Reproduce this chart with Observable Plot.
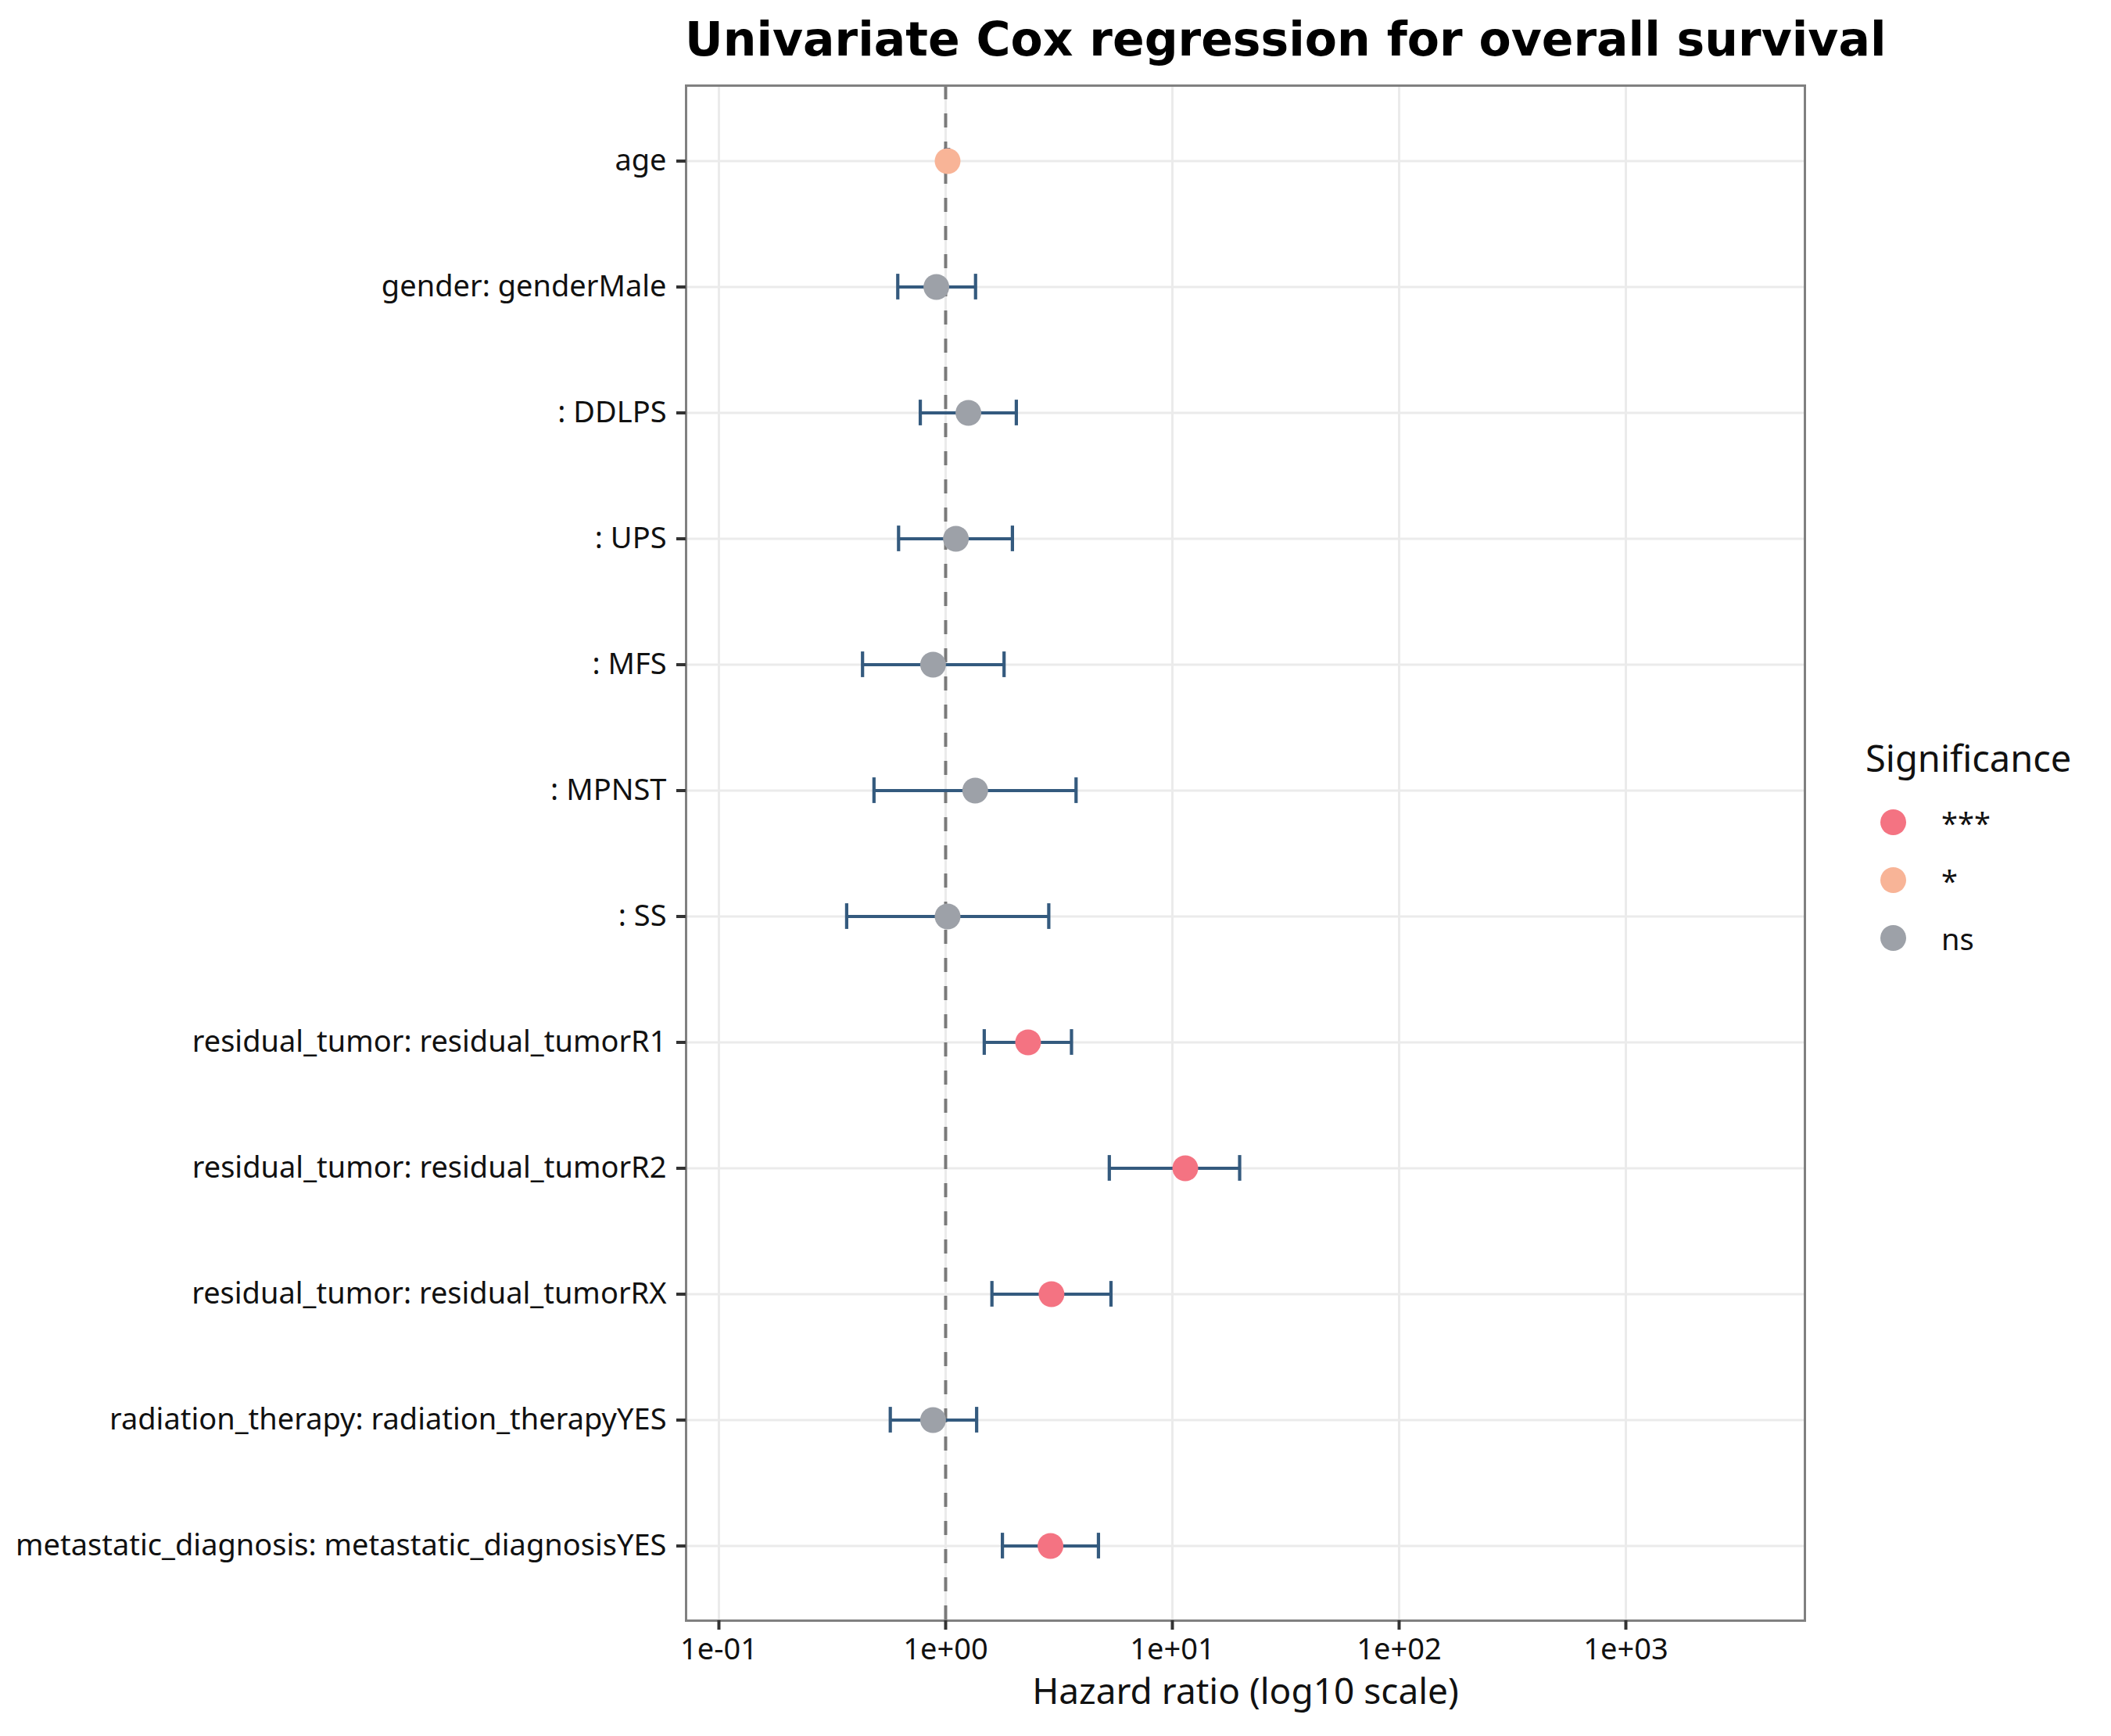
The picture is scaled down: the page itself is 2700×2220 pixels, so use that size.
<!DOCTYPE html>
<html>
<head>
<meta charset="utf-8">
<script src="https://cdn.jsdelivr.net/npm/d3@7"></script>
<script src="https://cdn.jsdelivr.net/npm/@observablehq/plot@0.6"></script>
<style>
  html, body { margin: 0; padding: 0; background: #ffffff; }
  #page { position: relative; width: 2700px; height: 2220px; overflow: hidden; background: #ffffff; }
  #title {
    height: 100px; line-height: 100px; padding-left: 876px;
    font-family: "DejaVu Sans", sans-serif; font-weight: bold; font-size: 60px; color: #000;
    white-space: nowrap;
  }
  #legend { position: absolute; left: 2386px; top: 937px; font-family: "Noto Sans", sans-serif; color: #111; }
  #legend .ttl { font-size: 47px; line-height: 64px; margin-bottom: 14px; }
  #legend .item { position: relative; height: 74px; }
  #legend .sw { position: absolute; left: 19px; width: 33px; height: 33px; border-radius: 50%; top: 20px; }
  #legend .lb { position: absolute; left: 97px; top: 0; font-size: 38px; line-height: 74px; }
</style>
</head>
<body>
<div id="page">
  <div id="title">Univariate Cox regression for overall survival</div>
  <div id="chart"></div>
  <div id="legend"></div>
</div>
<script>
// Model terms, top to bottom
const terms = [
  "age",
  "gender: genderMale",
  ": DDLPS",
  ": UPS",
  ": MFS",
  ": MPNST",
  ": SS",
  "residual_tumor: residual_tumorR1",
  "residual_tumor: residual_tumorR2",
  "residual_tumor: residual_tumorRX",
  "radiation_therapy: radiation_therapyYES",
  "metastatic_diagnosis: metastatic_diagnosisYES"
];
// Hazard ratios with 95% confidence limits
const hazardRatio = [1.02, 0.91, 1.26, 1.11, 0.88, 1.35, 1.02, 2.31, 11.4, 2.93, 0.88, 2.90];
const ciLower     = [1.00, 0.615, 0.773, 0.62, 0.43, 0.483, 0.366, 1.48, 5.27, 1.60, 0.57, 1.78];
const ciUpper     = [1.03, 1.355, 2.05, 1.97, 1.81, 3.76, 2.85, 3.59, 19.8, 5.36, 1.37, 4.72];
const significance = ["*", "ns", "ns", "ns", "ns", "ns", "ns", "***", "***", "***", "ns", "***"];

// Legend levels and colours
const sigLevels = ["***", "*", "ns"];
const sigColors = ["#f47382", "#f8b497", "#9da1a8"];

// Axis ticks and labels
const xTicks = [0.1, 1, 10, 100, 1000];
const xLabel = "Hazard ratio (log10 scale)";
const legendTitle = "Significance";

const rows = terms.map((term, i) => ({
  term, hr: hazardRatio[i], lo: ciLower[i], hi: ciUpper[i], sig: significance[i]
}));

const sciFormat = d => {
  const e = Math.round(Math.log10(d));
  return "1e" + (e < 0 ? "-" : "+") + String(Math.abs(e)).padStart(2, "0");
};

const barColor = "#345a7e";
const barWidth = 4.2;
const capInset = (161.2 - 33) / 2;

const chart = Plot.plot({
  width: 2700,
  height: 2120,
  marginLeft: 877,
  marginRight: 392,
  marginTop: 9,
  marginBottom: 148,
  style: { fontFamily: "Noto Sans", background: "#ffffff", overflow: "visible" },
  x: { type: "log", domain: [Math.pow(10, -1.1448), Math.pow(10, 3.7897)] },
  y: { type: "band", domain: terms, paddingInner: 0, paddingOuter: 0.09 },
  color: { domain: sigLevels, range: sigColors },
  marks: [
    Plot.gridX(xTicks, { stroke: "#ebebeb", strokeOpacity: 1, strokeWidth: 3 }),
    Plot.gridY({ stroke: "#ebebeb", strokeOpacity: 1, strokeWidth: 3 }),
    Plot.ruleX([1], { stroke: "#7a7a7a", strokeWidth: 4, strokeDasharray: "18,18" }),
    Plot.ruleY(rows, { y: "term", x1: "lo", x2: "hi", stroke: barColor, strokeWidth: barWidth }),
    Plot.tickX(rows, { y: "term", x: "lo", stroke: barColor, strokeWidth: barWidth, insetTop: capInset, insetBottom: capInset }),
    Plot.tickX(rows, { y: "term", x: "hi", stroke: barColor, strokeWidth: barWidth, insetTop: capInset, insetBottom: capInset }),
    Plot.dot(rows, { x: "hr", y: "term", r: 16.5, fill: "sig", stroke: null }),
    Plot.frame({ stroke: "#808080", strokeWidth: 3 }),
    Plot.axisX(xTicks, {
      tickSize: 12, tickPadding: 11, tickFormat: sciFormat, fontSize: 38,
      stroke: "#333333", strokeWidth: 4, fill: "#111111", label: null
    }),
    Plot.axisY({
      tickSize: 12, tickPadding: 13, fontSize: 38,
      stroke: "#333333", strokeWidth: 4, fill: "#111111", label: null
    }),
    Plot.text([xLabel], { frameAnchor: "bottom", dy: 106, fontSize: 46, fill: "#111111" })
  ]
});
document.getElementById("chart").appendChild(chart);

// Significance legend
const legend = document.getElementById("legend");
const ttl = document.createElement("div");
ttl.className = "ttl";
ttl.textContent = legendTitle;
legend.appendChild(ttl);
sigLevels.forEach((lvl, i) => {
  const item = document.createElement("div");
  item.className = "item";
  const sw = document.createElement("div");
  sw.className = "sw";
  sw.style.background = sigColors[i];
  const lb = document.createElement("div");
  lb.className = "lb";
  lb.textContent = lvl;
  item.appendChild(sw);
  item.appendChild(lb);
  legend.appendChild(item);
});
</script>
</body>
</html>
